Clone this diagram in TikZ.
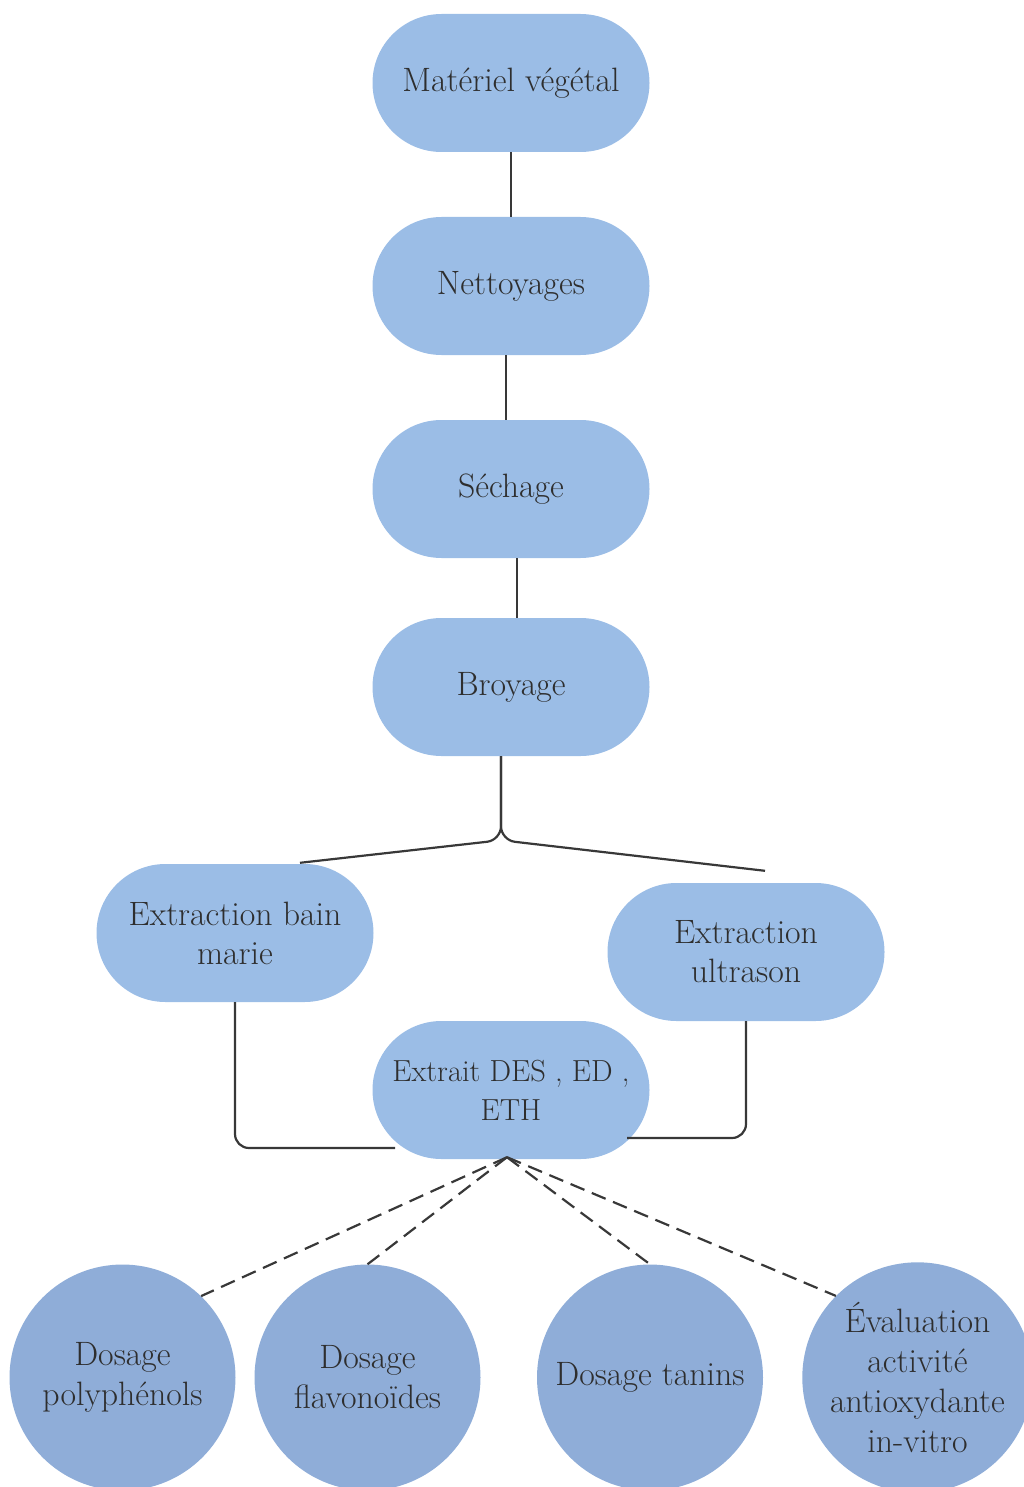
\documentclass[tikz,border=0pt]{standalone}
\usepackage{fontspec}
\usetikzlibrary{calc}
\definecolor{pill}{HTML}{9BBDE6}
\definecolor{circ}{HTML}{8FADD8}
\definecolor{ink}{HTML}{2E2E2E}
\definecolor{conn}{HTML}{383838}
\begin{document}
\begin{tikzpicture}[x=1pt,y=-1pt,
  txt/.style={align=center, text=ink, font=\fontsize{33.8}{39}\selectfont},
  pillbox/.style={txt, fill=pill, rounded corners=69pt, minimum width=277pt, minimum height=138pt, inner sep=0pt},
  circbox/.style={txt, circle, fill=circ, minimum size=226pt, inner sep=0pt, font=\fontsize{33.8}{40}\selectfont},
  link/.style={draw=conn, line width=2.2pt},
  dlink/.style={link, dash pattern=on 15pt off 8pt}]
\useasboundingbox (0,0) rectangle (1024,1487);
\clip (0,0) rectangle (1024,1487);

\node[pillbox] (mat) at (511,83) {Matériel végétal};
\node[pillbox] (net) at (511,286) {Nettoyages};
\node[pillbox] (sech) at (511,489) {Séchage};
\node[pillbox] (broy) at (511,687) {Broyage};
\node[pillbox] (bain) at (235,933) {Extraction bain\\marie};
\node[pillbox] (ultra) at (746,952) {Extraction\\ultrason};
\node[pillbox, font=\fontsize{30.5}{39}\selectfont] (ext) at (511,1090) {Extrait DES , ED ,\\ETH};

\node[circbox] (poly) at (122.5,1377.5) {Dosage\\polyphénols};
\node[circbox] (flav) at (367.5,1377.5) {Dosage\\flavonoïdes};
\node[circbox] (tan) at (650,1377.5) {Dosage tanins};
\node[circbox] (eval) at (917.5,1377.5) {Évaluation\\activité\\antioxydante\\in-vitro};

% vertical chain
\draw[link] (mat.south) -- (net.north);
\draw[link] ([xshift=-5pt]net.south) -- ([xshift=-5pt]sech.north);
\draw[link] ([xshift=6pt]sech.south) -- ([xshift=6pt]broy.north);

% branching below Broyage
\coordinate (fork) at ($(broy.south)+(-10,84)$);
\coordinate (bainend) at ($(bain.north)+(65,-1)$);
\coordinate (ultraend) at ($(ultra.north)+(19,-12)$);
\draw[link, rounded corners=14pt] ([xshift=-10pt]broy.south) -- (fork) -- (bainend);
\draw[link, rounded corners=14pt] ([xshift=-10pt]broy.south) -- (fork) -- (ultraend);

% extractions to extract
\coordinate (extL) at ($(ext.center)+(-116,58)$);
\coordinate (extR) at ($(ext.center)+(116,48)$);
\draw[link, rounded corners=14pt] (bain.south) |- (extL);
\draw[link, rounded corners=14pt] (ultra.south) |- (extR);

% dashed links to analyses
\coordinate (apex) at ($(ext.south)+(-4,-2)$);
\draw[dlink] (apex) -- (poly.46);
\draw[dlink] (apex) -- (flav.north);
\draw[dlink] (apex) -- (tan.north);
\draw[dlink] (apex) -- (eval.135);
\end{tikzpicture}
\end{document}
